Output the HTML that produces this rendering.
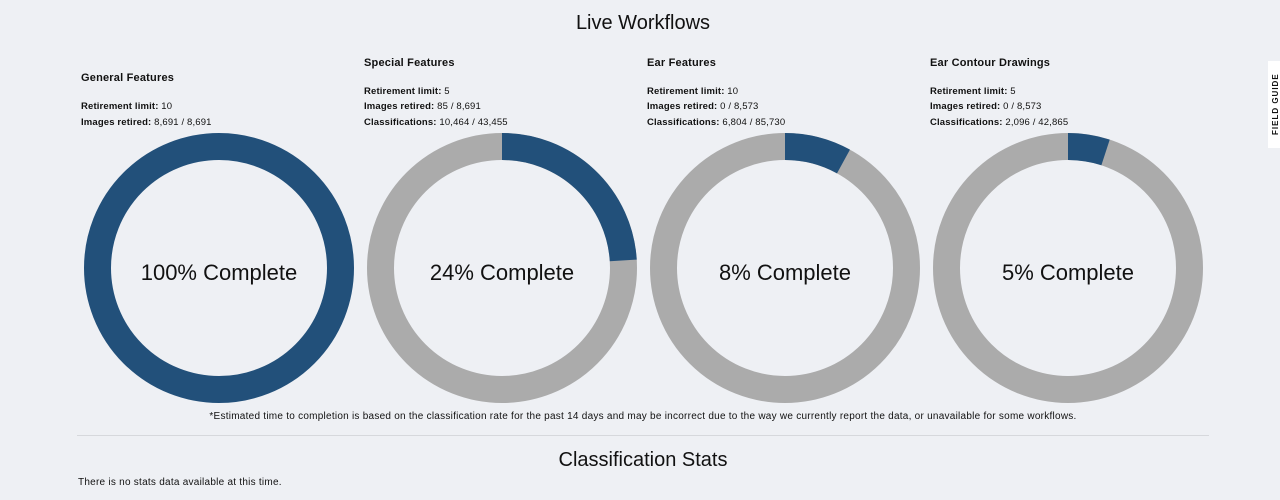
<!DOCTYPE html>
<html><head><meta charset="utf-8"><style>
*{margin:0;padding:0;box-sizing:border-box}
body{width:1280px;height:500px;background:#eef0f4;font-family:"Liberation Sans",sans-serif;color:#111;position:relative;overflow:hidden}
.a{position:absolute;white-space:nowrap}
.h{font-weight:bold;font-size:11px;letter-spacing:0.2px}
.s{font-size:9.5px;letter-spacing:0.15px}
.s b{font-weight:bold}
</style></head><body>
<div class="a" style="left:0;width:1286px;text-align:center;top:12px;font-size:20px">Live Workflows</div>

<div class="a h" style="left:81px;top:72px">General Features</div>
<div class="a s" style="left:81px;top:101px"><b>Retirement limit:</b> 10</div>
<div class="a s" style="left:81px;top:117px"><b>Images retired:</b> 8,691 / 8,691</div>

<div class="a h" style="left:364px;top:57px">Special Features</div>
<div class="a s" style="left:364px;top:86px"><b>Retirement limit:</b> 5</div>
<div class="a s" style="left:364px;top:101px"><b>Images retired:</b> 85 / 8,691</div>
<div class="a s" style="left:364px;top:117px"><b>Classifications:</b> 10,464 / 43,455</div>

<div class="a h" style="left:647px;top:57px">Ear Features</div>
<div class="a s" style="left:647px;top:86px"><b>Retirement limit:</b> 10</div>
<div class="a s" style="left:647px;top:101px"><b>Images retired:</b> 0 / 8,573</div>
<div class="a s" style="left:647px;top:117px"><b>Classifications:</b> 6,804 / 85,730</div>

<div class="a h" style="left:930px;top:57px">Ear Contour Drawings</div>
<div class="a s" style="left:930px;top:86px"><b>Retirement limit:</b> 5</div>
<div class="a s" style="left:930px;top:101px"><b>Images retired:</b> 0 / 8,573</div>
<div class="a s" style="left:930px;top:117px"><b>Classifications:</b> 2,096 / 42,865</div>

<svg class="a" style="left:0;top:0" width="1280" height="500">
<g fill="none" stroke-width="27">
<circle cx="219" cy="268" r="121.5" stroke="#22507a"/>
<circle cx="502" cy="268" r="121.5" stroke="#ababab"/>
<circle cx="502" cy="268" r="121.5" stroke="#22507a" stroke-dasharray="183.2 1000" transform="rotate(-90 502 268)"/>
<circle cx="785" cy="268" r="121.5" stroke="#ababab"/>
<circle cx="785" cy="268" r="121.5" stroke="#22507a" stroke-dasharray="61 1000" transform="rotate(-90 785 268)"/>
<circle cx="1068" cy="268" r="121.5" stroke="#ababab"/>
<circle cx="1068" cy="268" r="121.5" stroke="#22507a" stroke-dasharray="38.2 1000" transform="rotate(-90 1068 268)"/>
</g>
<g font-family="Liberation Sans, sans-serif" font-size="22" text-anchor="middle" fill="#111">
<text x="219" y="280">100% Complete</text>
<text x="502" y="280">24% Complete</text>
<text x="785" y="280">8% Complete</text>
<text x="1068" y="280">5% Complete</text>
</g>
</svg>

<div class="a" style="left:0;width:1286px;text-align:center;top:411px;font-size:10px;letter-spacing:0.25px">*Estimated time to completion is based on the classification rate for the past 14 days and may be incorrect due to the way we currently report the data, or unavailable for some workflows.</div>
<div class="a" style="left:77px;top:435px;width:1132px;height:1px;background:#d6d8dc"></div>
<div class="a" style="left:0;width:1286px;text-align:center;top:449px;font-size:20px">Classification Stats</div>
<div class="a" style="left:78px;top:477px;font-size:10px;letter-spacing:0.25px">There is no stats data available at this time.</div>

<div class="a" style="left:1268px;top:61px;width:14px;height:87px;background:#fff"></div>
<div class="a" style="left:1271px;top:61px;height:87px;writing-mode:vertical-rl;transform:rotate(180deg);font-size:8px;font-weight:bold;letter-spacing:1px;text-align:center;line-height:9px">FIELD GUIDE</div>
</body></html>
